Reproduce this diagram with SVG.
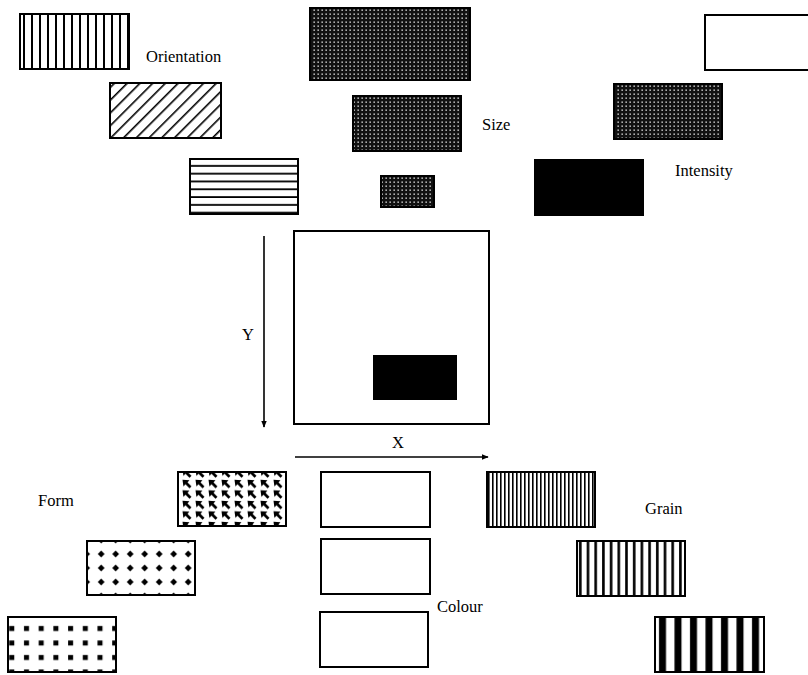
<svg xmlns="http://www.w3.org/2000/svg" width="808" height="675" viewBox="0 0 808 675">
<style>
.t{font-family:"Liberation Serif","DejaVu Serif","Times New Roman",serif;font-size:16.5px;fill:#000}
.b{stroke:#000;stroke-width:2;}
.w{fill:#fff}
.ax{stroke:#000;stroke-width:1.6;fill:none}
</style>
<defs>
<pattern id="vl" patternUnits="userSpaceOnUse" x="20" y="0" width="8" height="10"><rect width="8" height="10" fill="#fff"/><rect x="3" width="2" height="10" fill="#000"/></pattern>
<pattern id="dg" patternUnits="userSpaceOnUse" width="9" height="9" patternTransform="rotate(45)"><rect width="9" height="9" fill="#fff"/><rect x="4" width="1.6" height="9" fill="#000"/></pattern>
<pattern id="hl" patternUnits="userSpaceOnUse" x="0" y="159" width="10" height="7.8"><rect width="10" height="7.8" fill="#fff"/><rect y="6" width="10" height="1.8" fill="#000"/></pattern>
<pattern id="dots" patternUnits="userSpaceOnUse" width="4" height="4"><rect width="4" height="4" fill="#111"/><rect x="1.5" y="1.5" width="1.3" height="1.3" fill="#fff"/></pattern>
<pattern id="arr" patternUnits="userSpaceOnUse" x="181" y="479" width="13" height="10.5"><rect width="13" height="10.5" fill="#fff"/><path d="M1.5 0.8 L8.5 1.2 L6.5 3.3 L10.5 7.3 L8.5 9.3 L4.5 5.2 L2.4 7.3 Z" fill="#000"/></pattern>
<pattern id="dia" patternUnits="userSpaceOnUse" x="94" y="547" width="14.5" height="14"><rect width="14.5" height="14" fill="#fff"/><path d="M7.2 3.6 L10.6 7 L7.2 10.4 L3.8 7 Z" fill="#000"/></pattern>
<pattern id="sq" patternUnits="userSpaceOnUse" x="19" y="621" width="14.7" height="14.5"><rect width="14.7" height="14.5" fill="#fff"/><rect x="5" y="5" width="5" height="5" fill="#000"/></pattern>
<pattern id="g1" patternUnits="userSpaceOnUse" x="487" y="0" width="4" height="10"><rect width="4" height="10" fill="#fff"/><rect x="1" width="1.6" height="10" fill="#000"/></pattern>
<pattern id="g2" patternUnits="userSpaceOnUse" x="577" y="0" width="7.7" height="10"><rect width="7.7" height="10" fill="#fff"/><rect x="2" width="2.6" height="10" fill="#000"/></pattern>
<pattern id="g3" patternUnits="userSpaceOnUse" x="655" y="0" width="15.5" height="10"><rect width="15.5" height="10" fill="#fff"/><rect x="4" width="7" height="10" fill="#000"/></pattern>
<marker id="ah" viewBox="0 0 10 10" refX="9" refY="5" markerWidth="7" markerHeight="7" orient="auto" markerUnits="userSpaceOnUse"><path d="M0 1 L10 5 L0 9 Z" fill="#000"/></marker>
</defs>

<g id="orientation">
<rect class="b" x="20" y="14" width="109" height="55" fill="url(#vl)"/>
<rect class="b" x="110" y="83" width="111" height="55" fill="url(#dg)"/>
<rect class="b" x="190" y="159" width="108" height="55" fill="url(#hl)"/>
<text class="t" x="146" y="62">Orientation</text>
</g>

<g id="size">
<rect class="b" x="310" y="8" width="160" height="72" fill="url(#dots)"/>
<rect class="b" x="353" y="96" width="108" height="55" fill="url(#dots)"/>
<rect class="b" x="381" y="176" width="53" height="31" fill="url(#dots)"/>
<text class="t" x="482" y="130">Size</text>
</g>

<g id="intensity">
<rect class="b w" x="705" y="15" width="110" height="55"/>
<rect class="b" x="614" y="84" width="108" height="55" fill="url(#dots)"/>
<rect class="b" x="535" y="160" width="108" height="55" fill="#000"/>
<text class="t" x="675" y="176">Intensity</text>
</g>

<g id="plane">
<rect class="b w" x="294" y="231" width="195" height="193"/>
<rect x="373" y="355" width="84" height="45" fill="#000"/>
<text class="t" x="242" y="340">Y</text>
<text class="t" x="392" y="448">X</text>
</g>

<g id="connectors">
<line class="ax" x1="264" y1="236" x2="264" y2="427" marker-end="url(#ah)"/>
<line class="ax" x1="295" y1="457" x2="488" y2="457" marker-end="url(#ah)"/>
</g>

<g id="form">
<rect class="b" x="178" y="472" width="108" height="54" fill="url(#arr)"/>
<rect class="b" x="87" y="541" width="108" height="54" fill="url(#dia)"/>
<rect class="b" x="8" y="617" width="108" height="55" fill="url(#sq)"/>
<text class="t" x="38" y="506">Form</text>
</g>

<g id="colour">
<rect class="b w" x="321" y="472" width="109" height="55"/>
<rect class="b w" x="321" y="539" width="109" height="55"/>
<rect class="b w" x="320" y="612" width="108" height="55"/>
<text class="t" x="437" y="612">Colour</text>
</g>

<g id="grain">
<rect class="b" x="487" y="472" width="108" height="55" fill="url(#g1)"/>
<rect class="b" x="577" y="541" width="108" height="55" fill="url(#g2)"/>
<rect class="b" x="655" y="617" width="109" height="55" fill="url(#g3)"/>
<text class="t" x="645" y="514">Grain</text>
</g>
</svg>
